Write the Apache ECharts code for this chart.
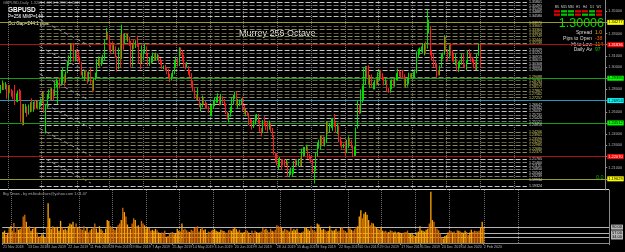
<!DOCTYPE html>
<html>
<head>
<meta charset="utf-8">
<script src="https://cdn.jsdelivr.net/npm/echarts@6/dist/echarts.min.js"></script>
<style>
  html, body { margin: 0; padding: 0; background: #000; }
  #chart { width: 625px; height: 252px; }
</style>
</head>
<body>
<div id="chart"></div>
<script>
// GBPUSD daily bars, [open, close, low, high], one array per month
var nov18 = [
  [1.2780,1.2805,1.2765,1.2840],[1.2805,1.2850,1.2795,1.2880],[1.2850,1.2810,1.2795,1.2860],[1.2810,1.2830,1.2800,1.2865],
  [1.2830,1.2720,1.2715,1.2845],[1.2720,1.2820,1.2715,1.2830],[1.2820,1.2780,1.2765,1.2840],[1.2780,1.2740,1.2735,1.2805]];
var dec18 = [
  [1.2740,1.2730,1.2710,1.2790],[1.2730,1.2725,1.2660,1.2840],[1.2725,1.2730,1.2690,1.2765],[1.2730,1.2760,1.2685,1.2790],
  [1.2760,1.2710,1.2700,1.2805],[1.2710,1.2560,1.2505,1.2790],[1.2560,1.2490,1.2477,1.2670],[1.2490,1.2630,1.2480,1.2670],
  [1.2630,1.2645,1.2590,1.2670],[1.2645,1.2580,1.2555,1.2650],[1.2580,1.2630,1.2575,1.2665],[1.2630,1.2650,1.2595,1.2685],
  [1.2650,1.2640,1.2600,1.2720],[1.2640,1.2655,1.2600,1.2690],[1.2655,1.2640,1.2620,1.2705],[1.2640,1.2680,1.2630,1.2700],
  [1.2680,1.2640,1.2620,1.2705],[1.2640,1.2660,1.2620,1.2690],[1.2660,1.2710,1.2645,1.2720],[1.2710,1.2750,1.2690,1.2780]];
var jan19 = [
  [1.2750,1.2615,1.2590,1.2785],[1.2615,1.2640,1.2405,1.2670],[1.2640,1.2720,1.2625,1.2760],[1.2720,1.2790,1.2715,1.2800],
  [1.2790,1.2735,1.2700,1.2810],[1.2735,1.2790,1.2705,1.2815],[1.2790,1.2750,1.2700,1.2800],[1.2750,1.2845,1.2740,1.2865],
  [1.2845,1.2860,1.2820,1.2895],[1.2860,1.2870,1.2670,1.2880],[1.2870,1.2860,1.2810,1.2905],[1.2860,1.2880,1.2840,1.2965],
  [1.2880,1.2880,1.2850,1.2995],[1.2880,1.2870,1.2830,1.2935],[1.2870,1.2955,1.2860,1.2960],[1.2955,1.3040,1.2945,1.3050],
  [1.3040,1.3070,1.3010,1.3105],[1.3070,1.3195,1.3045,1.3215],[1.3195,1.3190,1.3150,1.3215],[1.3190,1.3080,1.3050,1.3215],
  [1.3080,1.3120,1.3050,1.3145],[1.3120,1.3115,1.3065,1.3160]];
var feb19 = [
  [1.3115,1.3075,1.3055,1.3145],[1.3075,1.3040,1.3025,1.3095],[1.3040,1.2935,1.2925,1.3045],[1.2935,1.2935,1.2900,1.2960],
  [1.2935,1.2950,1.2875,1.2975],[1.2950,1.2940,1.2915,1.2975],[1.2940,1.2890,1.2850,1.2955],[1.2890,1.2945,1.2870,1.2960],
  [1.2945,1.2860,1.2850,1.2990],[1.2860,1.2800,1.2773,1.2880],[1.2800,1.2890,1.2790,1.2900],[1.2890,1.2930,1.2885,1.2950],
  [1.2930,1.3050,1.2905,1.3075],[1.3050,1.3050,1.3010,1.3095],[1.3050,1.3045,1.3000,1.3080],[1.3045,1.3050,1.3010,1.3090],
  [1.3050,1.3095,1.3030,1.3110],[1.3095,1.3245,1.3060,1.3250],[1.3245,1.3295,1.3240,1.3350],[1.3295,1.3260,1.3245,1.3315]];
var mar19 = [
  [1.3260,1.3190,1.3155,1.3285],[1.3190,1.3160,1.3115,1.3220],[1.3160,1.3145,1.3140,1.3230],[1.3145,1.3170,1.3120,1.3200],
  [1.3170,1.3090,1.3085,1.3185],[1.3090,1.3010,1.2960,1.3100],[1.3010,1.3160,1.2980,1.3175],[1.3160,1.3075,1.3000,1.3290],
  [1.3075,1.3265,1.3070,1.3380],[1.3265,1.3240,1.3155,1.3300],[1.3240,1.3260,1.3205,1.3300],[1.3260,1.3250,1.3240,1.3305],
  [1.3250,1.3260,1.3225,1.3295],[1.3260,1.3215,1.3190,1.3270],[1.3215,1.3110,1.3000,1.3235],[1.3110,1.3205,1.3005,1.3210],
  [1.3205,1.3195,1.3160,1.3245],[1.3195,1.3215,1.3170,1.3240],[1.3215,1.3195,1.3180,1.3280],[1.3195,1.3045,1.3030,1.3210],
  [1.3045,1.3035,1.2980,1.3120]];
var apr19 = [
  [1.3035,1.3115,1.3035,1.3195],[1.3115,1.3150,1.3060,1.3155],[1.3150,1.3175,1.3120,1.3210],[1.3175,1.3115,1.3100,1.3185],
  [1.3115,1.3035,1.3010,1.3120],[1.3035,1.3065,1.3010,1.3090],[1.3065,1.3065,1.3035,1.3100],[1.3065,1.3115,1.3040,1.3130],
  [1.3115,1.3065,1.3060,1.3125],[1.3065,1.3070,1.3060,1.3130],[1.3070,1.3085,1.3060,1.3120],[1.3085,1.3050,1.3040,1.3110],
  [1.3050,1.3040,1.3020,1.3080],[1.3040,1.2995,1.2985,1.3060],[1.2995,1.2995,1.2980,1.3015],[1.2995,1.2975,1.2970,1.3020],
  [1.2975,1.2940,1.2935,1.3000],[1.2940,1.2920,1.2905,1.2985],[1.2920,1.2915,1.2866,1.2940],[1.2915,1.2920,1.2880,1.2945],
  [1.2920,1.2940,1.2905,1.2970],[1.2940,1.3035,1.2935,1.3055]];
var may19 = [
  [1.3035,1.3055,1.3000,1.3095],[1.3055,1.3035,1.3005,1.3080],[1.3035,1.3170,1.3010,1.3177],[1.3170,1.3140,1.3100,1.3175],
  [1.3140,1.3080,1.3050,1.3150],[1.3080,1.3015,1.3000,1.3110],[1.3015,1.3005,1.2980,1.3040],[1.3005,1.3005,1.2995,1.3045],
  [1.3005,1.2950,1.2930,1.3010],[1.2950,1.2930,1.2910,1.2975],[1.2930,1.2870,1.2820,1.2945],[1.2870,1.2785,1.2780,1.2880],
  [1.2785,1.2720,1.2715,1.2810],[1.2720,1.2715,1.2700,1.2750],[1.2715,1.2725,1.2700,1.2815],[1.2725,1.2655,1.2640,1.2730],
  [1.2655,1.2655,1.2605,1.2680],[1.2655,1.2710,1.2640,1.2745],[1.2710,1.2680,1.2665,1.2730],[1.2680,1.2660,1.2630,1.2700],
  [1.2660,1.2630,1.2625,1.2680],[1.2630,1.2610,1.2590,1.2650],[1.2610,1.2620,1.2560,1.2655]];
var jun19 = [
  [1.2620,1.2660,1.2560,1.2665],[1.2660,1.2685,1.2625,1.2700],[1.2685,1.2705,1.2650,1.2730],[1.2705,1.2725,1.2680,1.2735],
  [1.2725,1.2735,1.2680,1.2765],[1.2735,1.2665,1.2655,1.2740],[1.2665,1.2730,1.2660,1.2760],[1.2730,1.2690,1.2675,1.2740],
  [1.2690,1.2665,1.2650,1.2715],[1.2665,1.2590,1.2580,1.2675],[1.2590,1.2545,1.2530,1.2600],[1.2545,1.2560,1.2505,1.2590],
  [1.2560,1.2610,1.2555,1.2645],[1.2610,1.2715,1.2590,1.2725],[1.2715,1.2740,1.2670,1.2750],[1.2740,1.2740,1.2715,1.2780],
  [1.2740,1.2675,1.2655,1.2780],[1.2675,1.2690,1.2630,1.2715],[1.2690,1.2695,1.2650,1.2710],[1.2695,1.2695,1.2660,1.2720]];
var jul19 = [
  [1.2695,1.2620,1.2605,1.2735],[1.2620,1.2585,1.2580,1.2660],[1.2585,1.2590,1.2560,1.2625],[1.2590,1.2575,1.2560,1.2605],
  [1.2575,1.2520,1.2480,1.2590],[1.2520,1.2510,1.2500,1.2540],[1.2510,1.2470,1.2440,1.2530],[1.2470,1.2515,1.2455,1.2525],
  [1.2515,1.2530,1.2485,1.2575],[1.2530,1.2575,1.2520,1.2580],[1.2575,1.2510,1.2500,1.2580],[1.2510,1.2425,1.2420,1.2525],
  [1.2425,1.2415,1.2380,1.2455],[1.2415,1.2510,1.2410,1.2525],[1.2510,1.2480,1.2470,1.2560],[1.2480,1.2475,1.2435,1.2505],
  [1.2475,1.2445,1.2420,1.2510],[1.2445,1.2475,1.2440,1.2520],[1.2475,1.2450,1.2420,1.2505],[1.2450,1.2375,1.2370,1.2455],
  [1.2375,1.2220,1.2215,1.2385],[1.2220,1.2160,1.2150,1.2230],[1.2160,1.2155,1.2120,1.2230]];
var aug19 = [
  [1.2155,1.2165,1.2080,1.2185],[1.2165,1.2165,1.2110,1.2195],[1.2165,1.2150,1.2080,1.2175],[1.2150,1.2145,1.2120,1.2175],
  [1.2145,1.2140,1.2105,1.2175],[1.2140,1.2140,1.2120,1.2175],[1.2140,1.2030,1.2015,1.2155],[1.2030,1.2060,1.2015,1.2075],
  [1.2060,1.2060,1.2035,1.2100],[1.2060,1.2060,1.2020,1.2095],[1.2060,1.2150,1.2045,1.2160],[1.2150,1.2145,1.2110,1.2175],
  [1.2145,1.2145,1.2120,1.2165],[1.2145,1.2155,1.2115,1.2180],[1.2155,1.2125,1.2110,1.2190],[1.2125,1.2240,1.2110,1.2270],
  [1.2240,1.2280,1.2200,1.2285],[1.2280,1.2280,1.2205,1.2285],[1.2280,1.2285,1.2250,1.2305],[1.2285,1.2195,1.2180,1.2290],
  [1.2195,1.2180,1.2165,1.2225],[1.2180,1.2160,1.2140,1.2205]];
var sep19 = [
  [1.2160,1.2060,1.2045,1.2175],[1.2060,1.2075,1.1958,1.2105],[1.2075,1.2215,1.2070,1.2230],[1.2215,1.2290,1.2200,1.2325],
  [1.2290,1.2290,1.2270,1.2350],[1.2290,1.2355,1.2260,1.2385],[1.2355,1.2350,1.2290,1.2385],[1.2350,1.2325,1.2305,1.2380],
  [1.2325,1.2340,1.2290,1.2375],[1.2340,1.2500,1.2320,1.2515],[1.2500,1.2425,1.2400,1.2510],[1.2425,1.2485,1.2415,1.2500],
  [1.2485,1.2495,1.2455,1.2535],[1.2495,1.2530,1.2430,1.2545],[1.2530,1.2475,1.2465,1.2580],[1.2475,1.2440,1.2410,1.2505],
  [1.2440,1.2465,1.2400,1.2500],[1.2465,1.2340,1.2330,1.2480],[1.2340,1.2315,1.2290,1.2375],[1.2315,1.2290,1.2270,1.2340],
  [1.2290,1.2290,1.2275,1.2315]];
var oct19 = [
  [1.2290,1.2235,1.2205,1.2340],[1.2235,1.2310,1.2230,1.2350],[1.2310,1.2335,1.2275,1.2380],[1.2335,1.2330,1.2305,1.2360],
  [1.2330,1.2285,1.2275,1.2350],[1.2285,1.2215,1.2195,1.2300],[1.2215,1.2215,1.2205,1.2290],[1.2215,1.2455,1.2205,1.2460],
  [1.2455,1.2665,1.2450,1.2705],[1.2665,1.2615,1.2580,1.2665],[1.2615,1.2770,1.2585,1.2800],[1.2770,1.2775,1.2680,1.2835],
  [1.2775,1.2885,1.2705,1.2990],[1.2885,1.2990,1.2845,1.3010],[1.2990,1.2965,1.2900,1.3010],[1.2965,1.2860,1.2840,1.3015],
  [1.2860,1.2910,1.2810,1.2930],[1.2910,1.2830,1.2815,1.2935],[1.2830,1.2830,1.2800,1.2865],[1.2830,1.2865,1.2800,1.2885],
  [1.2865,1.2850,1.2835,1.2895],[1.2850,1.2945,1.2840,1.2955],[1.2945,1.2945,1.2880,1.2975]];
var nov19 = [
  [1.2945,1.2935,1.2895,1.2975],[1.2935,1.2895,1.2885,1.2945],[1.2895,1.2860,1.2835,1.2910],[1.2860,1.2875,1.2840,1.2900],
  [1.2875,1.2795,1.2775,1.2880],[1.2795,1.2775,1.2770,1.2815],[1.2775,1.2860,1.2770,1.2880],[1.2860,1.2860,1.2800,1.2890],
  [1.2860,1.2850,1.2825,1.2890],[1.2850,1.2895,1.2825,1.2905],[1.2895,1.2905,1.2880,1.2945],[1.2905,1.2950,1.2880,1.2985],
  [1.2950,1.2940,1.2915,1.2975],[1.2940,1.2925,1.2905,1.2960],[1.2925,1.2915,1.2895,1.2975],[1.2915,1.2835,1.2825,1.2935],
  [1.2835,1.2860,1.2820,1.2895],[1.2860,1.2860,1.2825,1.2900],[1.2860,1.2930,1.2850,1.2950],[1.2930,1.2920,1.2900,1.2945],
  [1.2920,1.2920,1.2895,1.2945]];
var dec19 = [
  [1.2920,1.2945,1.2895,1.2960],[1.2945,1.2950,1.2905,1.2980],[1.2950,1.3130,1.2945,1.3140],[1.3130,1.3150,1.3080,1.3165],
  [1.3150,1.3150,1.3110,1.3175],[1.3150,1.3165,1.3135,1.3185],[1.3165,1.3190,1.3125,1.3215],[1.3190,1.3205,1.3105,1.3215],
  [1.3205,1.3190,1.3115,1.3230],[1.3190,1.3330,1.3165,1.3514],[1.3330,1.3330,1.3305,1.3425],[1.3330,1.3115,1.3105,1.3365],
  [1.3115,1.3075,1.3060,1.3155],[1.3075,1.3030,1.3000,1.3120],[1.3030,1.3010,1.2990,1.3055],[1.3010,1.2950,1.2905,1.3030],
  [1.2950,1.2935,1.2925,1.2975],[1.2935,1.3010,1.2925,1.3015],[1.3010,1.3075,1.3000,1.3120],[1.3075,1.3115,1.3070,1.3130],
  [1.3115,1.3260,1.3110,1.3285]];
var jan20 = [
  [1.3260,1.3150,1.3140,1.3270],[1.3150,1.3080,1.3050,1.3160],[1.3080,1.3185,1.3075,1.3195],[1.3185,1.3110,1.3100,1.3215],
  [1.3110,1.3105,1.3050,1.3150],[1.3105,1.3060,1.3040,1.3115],[1.3060,1.3060,1.3015,1.3120],[1.3060,1.2990,1.2960,1.3070],
  [1.2990,1.3025,1.2955,1.3050],[1.3025,1.3040,1.2990,1.3060],[1.3040,1.3080,1.3020,1.3120],[1.3080,1.3010,1.3000,1.3120],
  [1.3010,1.3000,1.2990,1.3025],[1.3000,1.3045,1.2975,1.3060],[1.3045,1.3125,1.3040,1.3150],[1.3125,1.3115,1.3090,1.3160],
  [1.3115,1.3075,1.3045,1.3125],[1.3075,1.3060,1.3040,1.3090],[1.3060,1.3010,1.2990,1.3070],[1.3010,1.3000,1.2975,1.3050],
  [1.3000,1.3110,1.2970,1.3120],[1.3110,1.3205,1.3100,1.3210]];
var feb20 = [[1.3205,1.30006,1.2995,1.3210]];

// tick volume ("Big Times" pane), one array per month
var volNov18 = [62,70,45,58,85,95,70,113];
var volDec18 = [60,88,75,80,92,150,160,120,85,95,70,80,90,85,60,35,40,55,45,30];
var volJan19 = [90,225,140,80,95,90,88,92,70,125,88,75,80,72,95,110,105,120,85,110,90,85];
var volFeb19 = [80,75,95,70,85,60,72,80,88,110,82,60,95,78,70,55,80,130,125,95];
var volMar19 = [90,80,75,85,100,110,130,200,175,150,105,85,80,110,140,130,95,100,90,125,110];
var volApr19 = [100,80,90,85,70,75,70,80,72,60,55,60,58,70,35,40,55,60,62,50,55,80];
var volMay19 = [70,65,110,75,80,72,65,62,75,70,85,90,95,65,80,88,72,78,50,65,62,70,75];
var volJun19 = [80,70,65,62,75,70,68,60,58,72,75,70,80,90,78,65,75,60,58,62];
var volJul19 = [75,70,60,45,70,55,70,62,58,60,65,85,75,80,72,62,80,70,65,75,100,95,90];
var volAug19 = [88,70,80,75,72,65,85,70,78,72,80,60,55,60,65,90,85,78,70,95,75,70];
var volSep19 = [65,110,105,90,75,80,72,65,70,95,75,70,72,80,65,70,85,90,72,68,60];
var volOct19 = [85,82,75,70,78,90,95,150,185,140,165,175,160,130,100,115,110,95,85,80,75,90,70];
var volNov19 = [65,70,60,62,72,68,60,65,58,62,60,55,58,60,62,70,55,52,58,45,40];
var volDec19 = [60,65,95,72,70,65,75,80,110,290,130,120,85,80,72,55,30,25,40,45,60];
var volJan20 = [70,68,60,65,55,72,70,65,60,58,70,62,45,60,75,62,70,68,65,70,90,120];
var volFeb20 = [85];

var tickLabels = ['21 Nov 2018','13 Dec 2018','3 Jan 2019','22 Jan 2019','11 Feb 2019','28 Feb 2019','19 Mar 2019',
  '7 Apr 2019','25 Apr 2019','14 May 2019','3 Jun 2019','20 Jun 2019','9 Jul 2019','28 Jul 2019','15 Aug 2019',
  '3 Sep 2019','22 Sep 2019','10 Oct 2019','29 Oct 2019','17 Nov 2019','5 Dec 2019','24 Dec 2019','14 Jan 2020','2 Feb 2020'];
var tickIdx = [0,16,29,42,56,69,82,96,109,122,136,149,162,176,189,202,216,229,242,256,269,282,295,309];
var vGridIdx = [5,26,49,70,92,113,135,156,178,200,222,243,265,287,309,331];

// Murrey 256 octave major lines (bottom to top)
var mmLevels = [1.19629, 1.22070, 1.24512, 1.26953, 1.29395, 1.31836, 1.34277];
var mmColors = ['#9a9a22', '#b01010', '#12a012', '#1f9cb3', '#12a012', '#b01010', '#9a9a22'];
var mmBoxes = ['#ffff00', '#ff0000', '#00ff00', '#00ffff', '#00ff00', '#ff0000', '#ffff00'];
var mmBoxText = ['#000', '#fff', '#000', '#000', '#000', '#fff', '#000'];
var volLevels = [90, 57, 34];

var tfNames = ['M5', 'M15', 'M30', 'H1', 'H4', 'D1', 'W1'];
var tfUp = [[0, 0], [1, 1], [1, 1], [0, 0], [0, 1], [1, 1], [0, 0]];
var infoLabels = ['Spread', 'Pips to Open', 'Hi to Low', 'Daily Av'];
var infoValues = ['1.0', '-38', '114', '97'];
var infoColors = ['#ffa000', '#ff5a00', '#ff9000', '#00d800'];

var bars = [].concat(nov18, dec18, jan19, feb19, mar19, apr19, may19, jun19, jul19, aug19, sep19, oct19, nov19, dec19, jan20, feb20);
var volumes = [].concat(volNov18, volDec18, volJan19, volFeb19, volMar19, volApr19, volMay19, volJun19, volJul19,
  volAug19, volSep19, volOct19, volNov19, volDec19, volJan20, volFeb20);
var lastClose = bars[bars.length - 1][1];

var N = 390;
var cats = [];
for (var i = 0; i < N; i++) cats.push(i);
var FONT = 'Liberation Sans, Arial, sans-serif';

var mainMarks = [];
vGridIdx.forEach(function (ix) {
  mainMarks.push({ xAxis: ix, lineStyle: { type: 'dotted', color: '#6e6e6e', width: 1 } });
});
// octave sub-lines, 8 per band
var step = (mmLevels[1] - mmLevels[0]) / 8;
for (var j = -8; j < 56; j++) {
  if (j % 8 === 0) continue;
  var v = mmLevels[0] + j * step;
  if (v < 1.1905 || v > 1.3595) continue;
  var band = Math.floor(j / 8);
  var olive = band === 1 || band === 3 || band === 5;
  var col = olive ? (j % 2 ? '#8e8a5e' : '#625f40') : (j % 2 ? '#c4c4c4' : '#7c7c7c');
  mainMarks.push([
    { coord: [25, v], lineStyle: { type: [5, 2], color: col, width: 1 },
      label: { show: true, position: 'end', distance: 2, formatter: v.toFixed(5), fontSize: 3.6,
        color: olive ? '#d8d070' : '#dcdcdc', fontFamily: FONT } },
    { coord: [339, v] }
  ]);
}
for (var k = 1; k < mmLevels.length; k++) {
  mainMarks.push([
    { coord: [25, mmLevels[k]], lineStyle: { type: [4, 3], color: '#9c9c9c', width: 1 } },
    { coord: [58, mmLevels[k - 1]] }
  ]);
}
mmLevels.forEach(function (v, k) {
  mainMarks.push({ yAxis: v, lineStyle: { type: 'solid', color: mmColors[k], width: 1 },
    label: { show: true, position: 'end', distance: 2, formatter: v.toFixed(5), fontSize: 4, fontFamily: FONT,
      color: mmBoxText[k], backgroundColor: mmBoxes[k], padding: [1, 1, 0, 1] } });
});
mainMarks.push({ yAxis: lastClose, lineStyle: { opacity: 0 },
  label: { show: true, position: 'end', distance: 2, formatter: lastClose.toFixed(5), fontSize: 4, fontFamily: FONT,
    color: '#000', backgroundColor: '#ffffff', padding: [1, 1, 0, 1] } });

var volMarks = [];
vGridIdx.forEach(function (ix) {
  volMarks.push({ xAxis: ix, lineStyle: { type: 'dotted', color: '#6e6e6e', width: 1 } });
});
volLevels.forEach(function (v) {
  volMarks.push({ yAxis: v, lineStyle: { type: 'solid', color: '#b4b4b4', width: 1 },
    label: { show: true, position: 'end', distance: 2, formatter: v.toFixed(2), fontSize: 4, fontFamily: FONT,
      color: '#000', backgroundColor: '#b4b4b4', padding: [1, 1, 0, 1] } });
});

var volData = volumes.map(function (v, i) {
  var up = bars[i][1] >= bars[i][0];
  return { value: v, itemStyle: { color: up ? '#ffa200' : '#d46a00' } };
});

var graphics = [
  { type: 'rect', shape: { x: 0, y: 189, width: 609, height: 1 }, style: { fill: '#d8d8d8' } },
  { type: 'text', x: 3, y: 3, style: { text: 'GBPUSD,Daily  1.3205 1.3210 1.2995 1.3001', fill: '#9a9a9a', font: '3.8px ' + FONT, verticalAlign: 'middle', textVerticalAlign: 'middle' } },
  { type: 'text', x: 8, y: 10.5, style: { text: 'GBPUSD', fill: '#ffffff', font: 'bold 6.5px ' + FONT, verticalAlign: 'middle', textVerticalAlign: 'middle' } },
  { type: 'text', x: 8, y: 17, style: { text: 'P=256 MMP=140', fill: '#ffffff', font: '4.5px ' + FONT, verticalAlign: 'middle', textVerticalAlign: 'middle' } },
  { type: 'text', x: 8, y: 23.5, style: { text: 'Oct Gap=244.1 pips', fill: '#ffffff', font: '4.5px ' + FONT, verticalAlign: 'middle', textVerticalAlign: 'middle' } },
  { type: 'text', x: 239, y: 34, style: { text: 'Murrey 256 Octave', fill: '#e6e6e6', font: '9px ' + FONT, verticalAlign: 'middle', textVerticalAlign: 'middle' } },
  { type: 'text', x: 604, y: 23.5, style: { text: lastClose.toFixed(5), fill: '#00e000', font: '12.5px ' + FONT, align: 'right', textAlign: 'right', verticalAlign: 'middle', textVerticalAlign: 'middle' } },
  { type: 'text', x: 596, y: 177, style: { text: '0.0', fill: '#00b000', font: '5.5px ' + FONT, verticalAlign: 'middle', textVerticalAlign: 'middle' } },
  { type: 'text', x: 3, y: 193.5, style: { text: 'Big Times - by mt4indicators@yahoo.com 1.01.07', fill: '#a8a8a8', font: '3.8px ' + FONT, verticalAlign: 'middle', textVerticalAlign: 'middle' } }
];
tfNames.forEach(function (name, c) {
  var cx = 557 + c * 7;
  graphics.push({ type: 'text', x: cx, y: 7.5, style: { text: name, fill: '#d0d0d0', font: '3.2px ' + FONT, align: 'center', textAlign: 'center', verticalAlign: 'middle', textVerticalAlign: 'middle' } });
  tfUp[c].forEach(function (u, r) {
    graphics.push({ type: 'rect', shape: { x: cx - 3, y: 10.2 + r * 3.4, width: 6, height: 2.2 }, style: { fill: u ? '#00c800' : '#e00000' } });
  });
});
infoLabels.forEach(function (lab, r) {
  var yy = 33 + r * 5.6;
  graphics.push({ type: 'text', x: 592, y: yy, style: { text: lab, fill: '#d8d8d8', font: '5px ' + FONT, align: 'right', textAlign: 'right', verticalAlign: 'middle', textVerticalAlign: 'middle' } });
  graphics.push({ type: 'text', x: 595, y: yy, style: { text: infoValues[r], fill: infoColors[r], font: '5px ' + FONT, verticalAlign: 'middle', textVerticalAlign: 'middle' } });
});

function isTick(idx) { return tickIdx.indexOf(idx) >= 0; }

var chart = echarts.init(document.getElementById('chart'), null, { renderer: 'canvas' });
chart.setOption({
  backgroundColor: '#000000',
  animation: false,
  grid: [
    { left: 0, right: 16, top: 0, height: 190 },
    { left: 0, right: 16, top: 190, height: 53 }
  ],
  xAxis: [
    { type: 'category', gridIndex: 0, data: cats, show: false },
    { type: 'category', gridIndex: 1, data: cats,
      axisLine: { lineStyle: { color: '#8a8a8a' } },
      axisTick: { show: true, length: 2, interval: function (idx) { return isTick(idx); }, lineStyle: { color: '#8a8a8a' } },
      axisLabel: { interval: function (idx) { return isTick(idx); }, fontSize: 3.6, fontFamily: FONT, color: '#b4b4b4', align: 'left', margin: 2,
        formatter: function (val, idx) { var p = tickIdx.indexOf(Number(val)); return p >= 0 ? tickLabels[p] : ''; } },
      splitLine: { show: false } }
  ],
  yAxis: [
    { type: 'value', gridIndex: 0, position: 'right', min: 1.19, max: 1.36, interval: 0.01,
      splitLine: { show: false },
      axisLine: { show: true, lineStyle: { color: '#8a8a8a' } },
      axisTick: { show: true, length: 2, lineStyle: { color: '#8a8a8a' } },
      axisLabel: { fontSize: 3.8, fontFamily: FONT, color: '#b4b4b4', margin: 3, showMinLabel: false, showMaxLabel: false,
        formatter: function (v) { return v.toFixed(5); } } },
    { type: 'value', gridIndex: 1, position: 'right', min: 0, max: 300,
      splitLine: { show: false },
      axisLine: { show: true, lineStyle: { color: '#8a8a8a' } },
      axisTick: { show: false },
      axisLabel: { show: false } }
  ],
  series: [
    { type: 'candlestick', xAxisIndex: 0, yAxisIndex: 0, data: bars, barWidth: 1, z: 3,
      itemStyle: { color: '#00dc00', color0: '#ff1a1a', borderColor: '#00dc00', borderColor0: '#ff1a1a', borderWidth: 1 },
      markLine: { silent: true, z: 1, symbol: ['none', 'none'], animation: false, label: { show: false }, data: mainMarks } },
    { type: 'bar', xAxisIndex: 1, yAxisIndex: 1, data: volData, barWidth: '85%', z: 3,
      markLine: { silent: true, z: 1, symbol: ['none', 'none'], animation: false, label: { show: false }, data: volMarks } }
  ],
  graphic: graphics
});
</script>
</body>
</html>
